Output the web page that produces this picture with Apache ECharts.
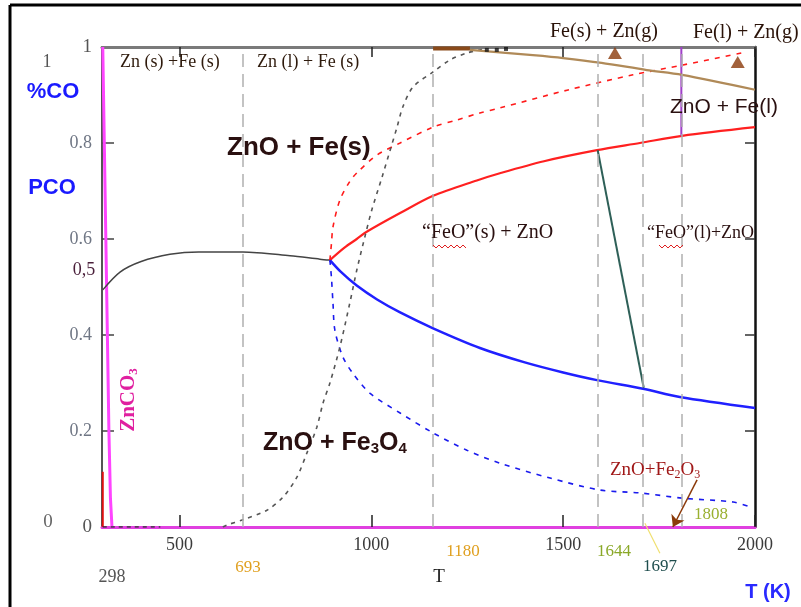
<!DOCTYPE html>
<html><head><meta charset="utf-8">
<script src="https://cdn.jsdelivr.net/npm/echarts@6/dist/echarts.min.js"></script>
<style>html,body{margin:0;padding:0;background:#fff}#c{width:801px;height:607px}</style>
</head><body><div id="c"></div>
<script>
// ---- data (T in K, PCO) ----
const xTicks = [500, 1000, 1500, 2000];
const yTickLabels = [0, 0.2, 0.4, 0.6, 0.8, 1];
const yTicks = [0.2, 0.4, 0.6, 0.8];
// vertical guide lines, at the positions
const guideLinesT = [665, 1161, 1590, 1708, 1810];
// their printed labels
const guideLabels = ['693', '1180', '1644', '1697', '1808'];
const blackSolid = [[300,0.494],[345,0.531],[400,0.553],[475,0.568],[550,0.573],[665,0.573],[788,0.565],[866,0.558],[892,0.556]];
const redSolid = [[892,0.556],[930,0.582],[962,0.600],[988,0.615],[1075,0.654],[1161,0.69],[1275,0.722],[1335,0.737],[1450,0.762],[1588,0.785],[1700,0.800],[1810,0.815],[2000,0.833]];
const blueSolid = [[892,0.556],[920,0.532],[962,0.503],[1015,0.474],[1075,0.447],[1161,0.414],[1283,0.373],[1400,0.343],[1500,0.322],[1588,0.306],[1708,0.288],[1804,0.271],[2000,0.248]];
const blueDashed = [[892,0.556],[896,0.52],[900,0.467],[905,0.41],[926,0.354],[952,0.32],[996,0.279],[1075,0.2375],[1161,0.196],[1249,0.16],[1335,0.133],[1466,0.102],[1596,0.077],[1700,0.071],[1812,0.06],[1943,0.052],[1987,0.042]];
const redDashed = [[892,0.556],[896,0.59],[900,0.625],[918,0.681],[944,0.72],[965,0.74],[1015,0.775],[1075,0.80],[1161,0.833],[1223,0.848],[1283,0.8625],[1335,0.873],[1510,0.91],[1682,0.942],[1812,0.9625],[1979,0.99]];
const blackDashed = [[613,0],[623,0.004],[665,0.015],[728,0.035],[770,0.0625],[806,0.104],[832,0.154],[858,0.208],[874,0.258],[892,0.30],[918,0.375],[944,0.467],[962,0.535],[983,0.604],[1001,0.66],[1028,0.729],[1049,0.785],[1067,0.833],[1082,0.875],[1109,0.917],[1161,0.948],[1205,0.973],[1249,0.9875],[1290,0.995]];
const blackDashBase = [[300,0],[450,0]];
const magentaLine = [[300,1],[302,0.9],[304,0.8],[308,0.6],[312,0.4],[316,0.2],[320,0.06],[324,0]];
const redStub = [[300,0],[300,0.115]];
const tealLine = [[1590,0.785],[1710,0.29]];
const purpleLine = [[1808,1],[1808,0.815]];
const brownThick = [[1161,0.997],[1257,0.997]];
const brownCurve = [[1257,0.994],[1421,0.983],[1500,0.977],[1600,0.967],[1718,0.952],[1810,0.942],[2000,0.911]];
const blackDots = [[1301,0.994],[1327,0.994],[1351,0.996]];
const brownTriangles = [[1635,0.9875],[1955,0.969]];
const fe2o3Arrow = [[1849,0.098],[1786,0]];

const SERIF = '"Liberation Serif", "DejaVu Serif", serif';
const SANS = '"Liberation Sans", Arial, sans-serif';

const chart = echarts.init(document.getElementById('c'), null, {renderer: 'canvas'});

function line(data, color, width, type, extra) {
  return Object.assign({
    type: 'line', data: data, showSymbol: false, symbol: 'none', silent: true,
    lineStyle: {color: color, width: width, type: type || 'solid'},
    smooth: 0.3, z: 3
  }, extra || {});
}

const option = {
  animation: false,
  backgroundColor: '#fff',
  grid: {left: 102, right: 46, top: 47, bottom: 80, containLabel: false},
  xAxis: [
    {type: 'value', position: 'bottom', min: 298, max: 2000,
     axisLine: {show: true, onZero: false, lineStyle: {color: '#e040e0', width: 3}},
     axisTick: {show: true, inside: true, length: 12, customValues: xTicks, lineStyle: {color: '#222', width: 1.5}},
     axisLabel: {show: true, customValues: xTicks, margin: 9, fontFamily: SERIF, fontSize: 18,
       formatter: v => String(v),
       rich: {}, color: '#3a3a3a'},
     splitLine: {show: false}},
    {type: 'value', position: 'top', min: 298, max: 2000,
     axisLine: {show: true, onZero: false, lineStyle: {color: '#7a7a7a', width: 3}},
     axisTick: {show: true, inside: true, length: 10, customValues: xTicks, lineStyle: {color: '#222', width: 1.5}},
     axisLabel: {show: false}, splitLine: {show: false}}
  ],
  yAxis: [
    {type: 'value', position: 'left', min: 0, max: 1,
     axisLine: {show: true, onZero: false, lineStyle: {color: '#555', width: 2}},
     axisTick: {show: true, inside: true, length: 12, customValues: yTicks, lineStyle: {color: '#444', width: 1.5}},
     axisLabel: {show: true, customValues: yTickLabels, margin: 10,
       formatter: v => (v === 0 || v === 1) ? '{d|' + v + '}' : '{g|' + v + '}',
       rich: {d: {fontFamily: SERIF, fontSize: 19, color: '#555'}, g: {fontFamily: SERIF, fontSize: 18, color: '#6f7684'}}},
     splitLine: {show: false}},
    {type: 'value', position: 'right', min: 0, max: 1,
     axisLine: {show: true, onZero: false, lineStyle: {color: '#111', width: 2.5}},
     axisTick: {show: true, inside: true, length: 10, customValues: yTicks, lineStyle: {color: '#333', width: 1.5}},
     axisLabel: {show: false}, splitLine: {show: false}}
  ],
  series: [
    {type: 'line', data: [], silent: true,
     markLine: {silent: true, symbol: 'none', label: {show: false},
       lineStyle: {color: '#b0b0b0', width: 1.5, type: [13, 7]},
       data: guideLinesT.map(v => ({xAxis: v}))}},
    line(magentaLine, '#ff44ff', 3, 'solid', {smooth: false}),
    line(redStub, '#e01010', 2, 'solid', {smooth: false}),
    line(blackDashBase, '#333', 1.5, [4, 4], {smooth: false}),
    line(blackSolid, '#444', 1.5),
    line(redSolid, '#ff2020', 2.2),
    line(blueSolid, '#2020ff', 2.5),
    line(blueDashed, '#1a1aee', 1.6, [5, 6]),
    line(redDashed, '#ff1a1a', 1.6, [5, 6]),
    line(blackDashed, '#555', 1.6, [4, 5]),
    line(tealLine, '#2f6058', 2, 'solid', {smooth: false}),
    line(purpleLine, '#a040c8', 2, 'solid', {smooth: false}),
    line(brownThick, '#8a4a1a', 4, 'solid', {smooth: false}),
    line(brownCurve, '#b08a58', 2.2),
    {type: 'scatter', data: blackDots, symbol: 'rect', symbolSize: 4, itemStyle: {color: '#111'}, silent: true, z: 4},
    {type: 'scatter', data: brownTriangles, symbol: 'triangle', symbolSize: [14, 12], itemStyle: {color: '#8b3a0a'}, silent: true, z: 4},
    {type: 'line', data: [], silent: true,
     markLine: {silent: true, symbol: ['none', 'arrow'], symbolSize: 11, label: {show: false},
       lineStyle: {color: '#8b3a0a', width: 1.5, type: 'solid'},
       data: [[{coord: fe2o3Arrow[0]}, {coord: fe2o3Arrow[1]}]]}}
  ]
};
chart.setOption(option);

function txt(text, x, y, font, size, color, opts) {
  opts = opts || {};
  return {type: 'text', x: x, y: y, z: 50, silent: true, rotation: opts.rotation || 0,
    style: Object.assign({text: text, fontFamily: font, fontSize: size, fill: color,
      fontWeight: opts.bold ? 'bold' : 'normal',
      align: opts.align || 'left', verticalAlign: 'middle'}, opts.style || {})};
}
function wavy(x0, x1, y) {
  const pts = [];
  let up = true;
  for (let x = x0; x <= x1; x += 3) { pts.push([x, up ? y : y + 3]); up = !up; }
  return {type: 'polyline', z: 50, silent: true, shape: {points: pts}, style: {stroke: '#e02020', lineWidth: 1, fill: null}};
}
const p = (v) => chart.convertToPixel({xAxisIndex: 0, yAxisIndex: 0}, v);
const yl0 = p([1713, 0.008]);

const guideLabelStyle = [
  [248, 568, '#e0a020'], [463, 552, '#e0a020'], [614, 552, '#8aa828'], [660, 567, '#1e4d4d'], [711, 515, '#9ab030']
];

const graphics = [
  {type: 'line', z: 60, silent: true, shape: {x1: 10, y1: 5, x2: 801, y2: 5}, style: {stroke: '#000', lineWidth: 3}},
  {type: 'line', z: 60, silent: true, shape: {x1: 10, y1: 5, x2: 10, y2: 607}, style: {stroke: '#000', lineWidth: 3}},
  {type: 'line', z: 50, silent: true, shape: {x1: yl0[0], y1: yl0[1], x2: yl0[0] + 15, y2: yl0[1] + 30}, style: {stroke: '#f0e070', lineWidth: 1.2}},
  txt('%CO', 53, 92, SANS, 22, '#1a1aff', {bold: true, align: 'center'}),
  txt('PCO', 52, 188, SANS, 22, '#1a1aff', {bold: true, align: 'center'}),
  txt('1', 47, 62, SERIF, 18, '#555', {align: 'center'}),
  txt('0', 48, 522, SERIF, 19, '#666', {align: 'center'}),
  txt('0,5', 84, 270, SERIF, 18, '#4a1f3a', {align: 'center'}),
  txt('298', 112, 577, SERIF, 18, '#555', {align: 'center'}),
  txt('T', 439, 577, SERIF, 19, '#222', {align: 'center'}),
  txt('T (K)', 768, 592, SANS, 20, '#2a2aff', {bold: true, align: 'center'}),
  txt('{a|ZnO+Fe}{s|2}{a|O}{s|3}', 610, 470, SERIF, 18, '#a01818', {style: {rich: {
    a: {fontFamily: SERIF, fontSize: 19, fill: '#a01818'},
    s: {fontFamily: SERIF, fontSize: 12, fill: '#a01818', padding: [10, 0, 0, 0]}}}}),
  txt('Zn (s) +Fe (s)', 120, 62, SERIF, 18, '#2e1a0c'),
  txt('Zn (l) + Fe (s)', 257, 62, SERIF, 18, '#2e1a0c'),
  txt('Fe(s) + Zn(g)', 550, 32, SERIF, 20, '#2a1208'),
  txt('Fe(l) + Zn(g)', 693, 33, SERIF, 20, '#2a1208'),
  txt('ZnO + Fe(s)', 227, 148, SANS, 26, '#2a1010', {bold: true}),
  txt('{a|ZnO + Fe}{s|3}{a|O}{s|4}', 263, 443, SANS, 25, '#2a1010', {style: {rich: {
    a: {fontFamily: SANS, fontSize: 25, fontWeight: 'bold', fill: '#2a1010'},
    s: {fontFamily: SANS, fontSize: 15, fontWeight: 'bold', fill: '#2a1010', padding: [12, 0, 0, 0]}}}}),
  txt('ZnO + Fe(l)', 670, 107, SANS, 21, '#2a1010'),
  txt('\u201cFeO\u201d(s) + ZnO', 422, 233, SERIF, 20, '#2a1010'),
  txt('\u201cFeO\u201d(l)+ZnO', 647, 233, SERIF, 18, '#2a1010'),
  wavy(433, 468, 245),
  wavy(659, 684, 245),
  txt('{a|ZnCO}{s|3}', 129, 400, SERIF, 20, '#e020a0', {rotation: Math.PI / 2, align: 'center', bold: true, style: {rich: {
    a: {fontFamily: SERIF, fontSize: 21, fontWeight: 'bold', fill: '#e020a0'},
    s: {fontFamily: SERIF, fontSize: 13, fontWeight: 'bold', fill: '#e020a0', padding: [10, 0, 0, 0]}}}})
].concat(guideLabels.map((t, i) => txt(t, guideLabelStyle[i][0], guideLabelStyle[i][1], SERIF, 17, guideLabelStyle[i][2], {align: 'center'})));
chart.setOption({graphic: graphics});
</script>
</body></html>
